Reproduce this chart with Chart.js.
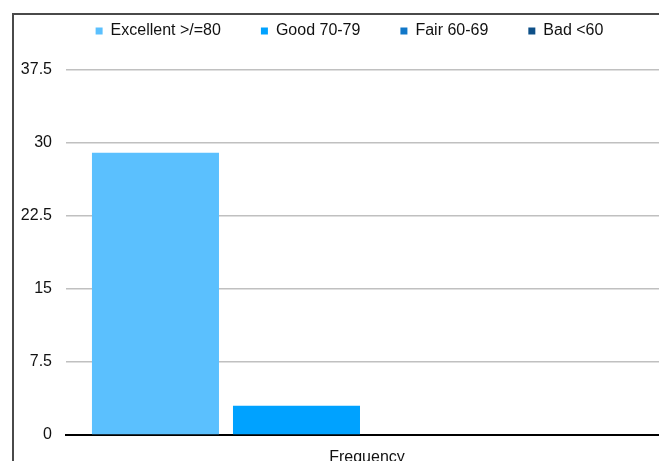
<!DOCTYPE html>
<html lang="en">
<head>
    <meta charset="UTF-8">
    <meta name="viewport" content="width=device-width, initial-scale=1.0">
    <title>Frequency</title>
    <style>
        body { margin: 0; overflow: hidden; background: #fff; }
        #frame {
            position: absolute; left: 12px; top: 13px;
            width: 700px; height: 500px;
            border-left: 2px solid #4a4a4a; border-top: 2px solid #4a4a4a;
        }
        #wrap { position: absolute; left: 0; top: 0; width: 690px; height: 480px; }
    </style>
</head>
<body>
    <div id="frame"></div>
    <div id="wrap">
        <canvas id="myChart" width="690" height="480"></canvas>
    </div>

    <script src="https://cdn.jsdelivr.net/npm/chart.js"></script>

    <script>
        // grade bands, one series each, all under the single "Frequency" category
        const categories = ['Frequency']
        const bandNames = ['Excellent >/=80', 'Good 70-79', 'Fair 60-69', 'Bad <60']
        const excellent = [29]
        const good = [3]
        const fair = [0]
        const bad = [0]
        const yTicks = [0, 7.5, 15, 22.5, 30, 37.5]

        const bandColors = ['#5bc0fe', '#00a2ff', '#1177c8', '#0e5088']
        const bandValues = [excellent, good, fair, bad]

        const font = { family: '"Liberation Sans", Arial, sans-serif', size: 16 }

        const ctx = document.getElementById('myChart')

        new Chart(ctx, {
            type: 'bar',
            data: {
                labels: categories,
                datasets: bandNames.map((name, i) => ({
                    label: name,
                    data: bandValues[i],
                    backgroundColor: bandColors[i],
                    borderWidth: 0,
                    categoryPercentage: 0.937,
                    barPercentage: 0.9007
                }))
            },
            options: {
                responsive: false,
                animation: false,
                layout: { padding: { left: 0, right: 22, top: -17, bottom: 0 } },
                plugins: {
                    tooltip: { enabled: false },
                    legend: {
                        position: 'top',
                        labels: {
                            font: font,
                            color: '#111',
                            boxWidth: 7,
                            boxHeight: 7,
                            padding: 40
                        }
                    }
                },
                scales: {
                    x: {
                        grid: { display: false },
                        border: { color: '#000', width: 2 },
                        ticks: { font: font, color: '#111', padding: 5 },
                        afterFit: (scale) => { scale.height = 45 }
                    },
                    y: {
                        min: 0,
                        max: 37.5,
                        afterBuildTicks: (scale) => { scale.ticks = yTicks.map(v => ({ value: v })) },
                        grid: { color: '#c0c0c0', lineWidth: 1.5, drawTicks: false },
                        border: { display: false },
                        ticks: { font: font, color: '#111', padding: 14 },
                        afterFit: (scale) => { scale.width = 66 }
                    }
                }
            },
            plugins: [{
                id: 'legendBox',
                beforeInit(chart) {
                    const fit = chart.legend.fit
                    chart.legend.fit = function () {
                        fit.bind(chart.legend)()
                        this.height = 87
                    }
                },
                afterLayout(chart) {
                    // centre the legend over the band 31..668
                    chart.legend.left = 31
                }
            }]
        })
    </script>
</body>
</html>
